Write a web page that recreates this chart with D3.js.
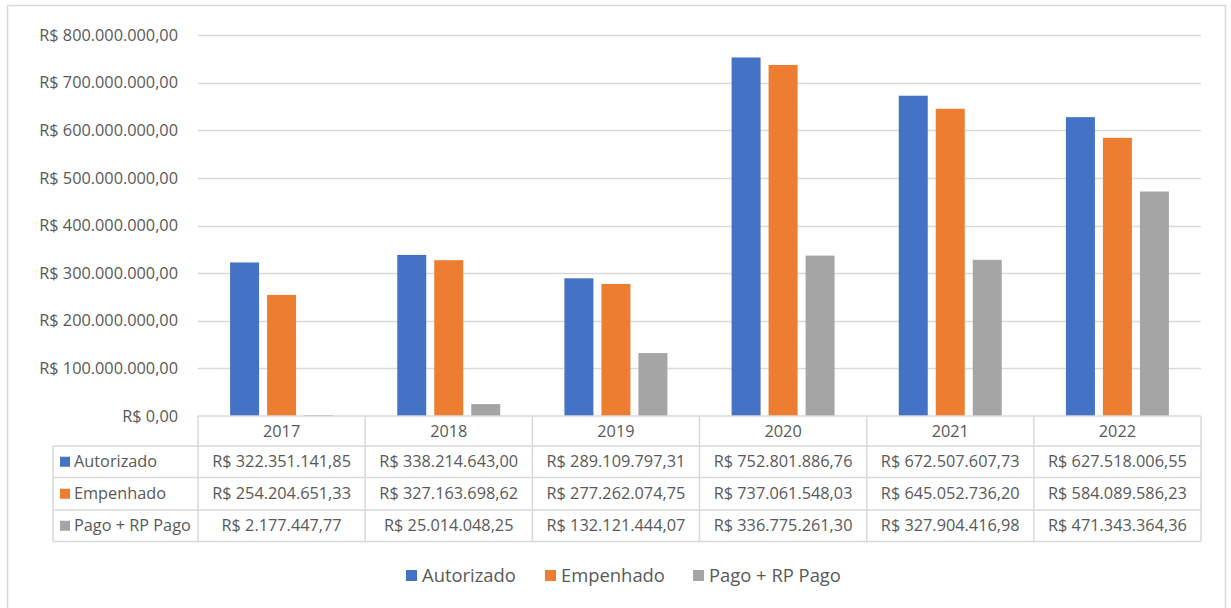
<!DOCTYPE html>
<html>
<head>
<meta charset="utf-8">
<script src="https://cdn.jsdelivr.net/npm/d3@7"></script>
<style>
  html, body { margin: 0; padding: 0; background: #fff; }
  svg { display: block; }
  text { font-family: "Open Sans", "Noto Sans", sans-serif; fill: #595959; }
</style>
</head>
<body>
<svg id="chart" width="1231" height="608"></svg>
<script>
// Anos (categorias)
const years = ["2017", "2018", "2019", "2020", "2021", "2022"];
// Séries
const seriesNames = ["Autorizado", "Empenhado", "Pago + RP Pago"];
const autorizado = [322351141.85, 338214643.00, 289109797.31, 752801886.76, 672507607.73, 627518006.55];
const empenhado  = [254204651.33, 327163698.62, 277262074.75, 737061548.03, 645052736.20, 584089586.23];
const pagoRP     = [2177447.77, 25014048.25, 132121444.07, 336775261.30, 327904416.98, 471343364.36];
const seriesColors = ["#4472C4", "#ED7D31", "#A5A5A5"];
// Marcas do eixo Y
const yTicks = [0, 100000000, 200000000, 300000000, 400000000, 500000000, 600000000, 700000000, 800000000];

const seriesValues = [autorizado, empenhado, pagoRP];

const svg = d3.select("#chart");
const gridColor = "#d9d9d9";
const labelSize = "16.3px";

// Moldura externa
svg.append("rect")
  .attr("x", 7.5).attr("y", 5.5).attr("width", 1218).attr("height", 610)
  .attr("fill", "none").attr("stroke", gridColor).attr("stroke-width", 1.5);

const plotLeft = 198, plotRight = 1201, plotTop = 35, plotBottom = 416;

const x = d3.scaleBand().domain(years).range([plotLeft, plotRight]).paddingInner(0).paddingOuter(0);
const y = d3.scaleLinear().domain([0, 800000000]).range([plotBottom, plotTop]);

// formato brasileiro de moeda
const br = d3.formatLocale({ decimal: ",", thousands: ".", grouping: [3], currency: ["R$ ", ""] });
const fmt = br.format("$,.2f");

// Linhas de grade
svg.append("g").selectAll("line").data(yTicks.filter(d => d > 0)).join("line")
  .attr("x1", plotLeft).attr("x2", plotRight)
  .attr("y1", d => Math.round(y(d)) + 0.5).attr("y2", d => Math.round(y(d)) + 0.5)
  .attr("stroke", gridColor).attr("stroke-width", 1.5);

// Rótulos do eixo Y
svg.append("g").selectAll("text").data(yTicks).join("text")
  .attr("x", 178).attr("y", d => y(d))
  .attr("dy", "0.35em").attr("text-anchor", "end")
  .style("font-size", labelSize)
  .text(d => fmt(d));

// Barras
const bw = 29, gap = 8;
const groupW = bw * 3 + gap * 2;
const barsG = svg.append("g");
seriesValues.forEach((vals, si) => {
  barsG.append("g").selectAll("rect").data(vals).join("rect")
    .attr("x", (d, i) => x(years[i]) + (x.bandwidth() - groupW) / 2 + si * (bw + gap))
    .attr("y", d => y(d))
    .attr("width", bw)
    .attr("height", d => plotBottom - y(d))
    .attr("fill", seriesColors[si]);
});

// Tabela de dados
const rowH = [30, 31.5, 32.5, 31.5];
const rowY = [416];
rowH.forEach((h, i) => rowY.push(rowY[i] + h));
const tableLeft = 53;
const tbl = svg.append("g");
const stroke = (x1, y1, x2, y2) => tbl.append("line")
  .attr("x1", x1).attr("y1", y1).attr("x2", x2).attr("y2", y2)
  .attr("stroke", gridColor).attr("stroke-width", 1.5);

// linhas horizontais
rowY.forEach((ry, i) => stroke(i === 0 ? plotLeft : tableLeft, ry, plotRight, ry));
// linhas verticais
stroke(tableLeft, rowY[1], tableLeft, rowY[4]);
years.forEach(yr => stroke(x(yr), rowY[0], x(yr), rowY[4]));
stroke(plotRight, rowY[0], plotRight, rowY[4]);

// cabeçalho com anos
tbl.selectAll("text.yr").data(years).join("text").attr("class", "yr")
  .attr("x", d => x(d) + x.bandwidth() / 2)
  .attr("y", (rowY[0] + rowY[1]) / 2).attr("dy", "0.35em")
  .attr("text-anchor", "middle").style("font-size", labelSize)
  .text(d => d);

seriesNames.forEach((name, si) => {
  const cy = (rowY[si + 1] + rowY[si + 2]) / 2;
  tbl.append("rect").attr("x", 60).attr("y", cy - 5).attr("width", 10).attr("height", 10)
    .attr("fill", seriesColors[si]);
  tbl.append("text").attr("x", 74).attr("y", cy).attr("dy", "0.35em")
    .style("font-size", labelSize).text(name);
  tbl.append("g").selectAll("text").data(seriesValues[si]).join("text")
    .attr("x", (d, i) => x(years[i]) + x.bandwidth() / 2)
    .attr("y", cy).attr("dy", "0.35em")
    .attr("text-anchor", "middle").style("font-size", labelSize)
    .text(d => fmt(d));
});

// Legenda
const legendX = [406, 545, 693];
const lg = svg.append("g");
seriesNames.forEach((name, si) => {
  lg.append("rect").attr("x", legendX[si]).attr("y", 570).attr("width", 11).attr("height", 11)
    .attr("fill", seriesColors[si]);
  lg.append("text").attr("x", legendX[si] + 16).attr("y", 576).attr("dy", "0.35em")
    .style("font-size", "18.4px").text(name);
});
</script>
</body>
</html>
